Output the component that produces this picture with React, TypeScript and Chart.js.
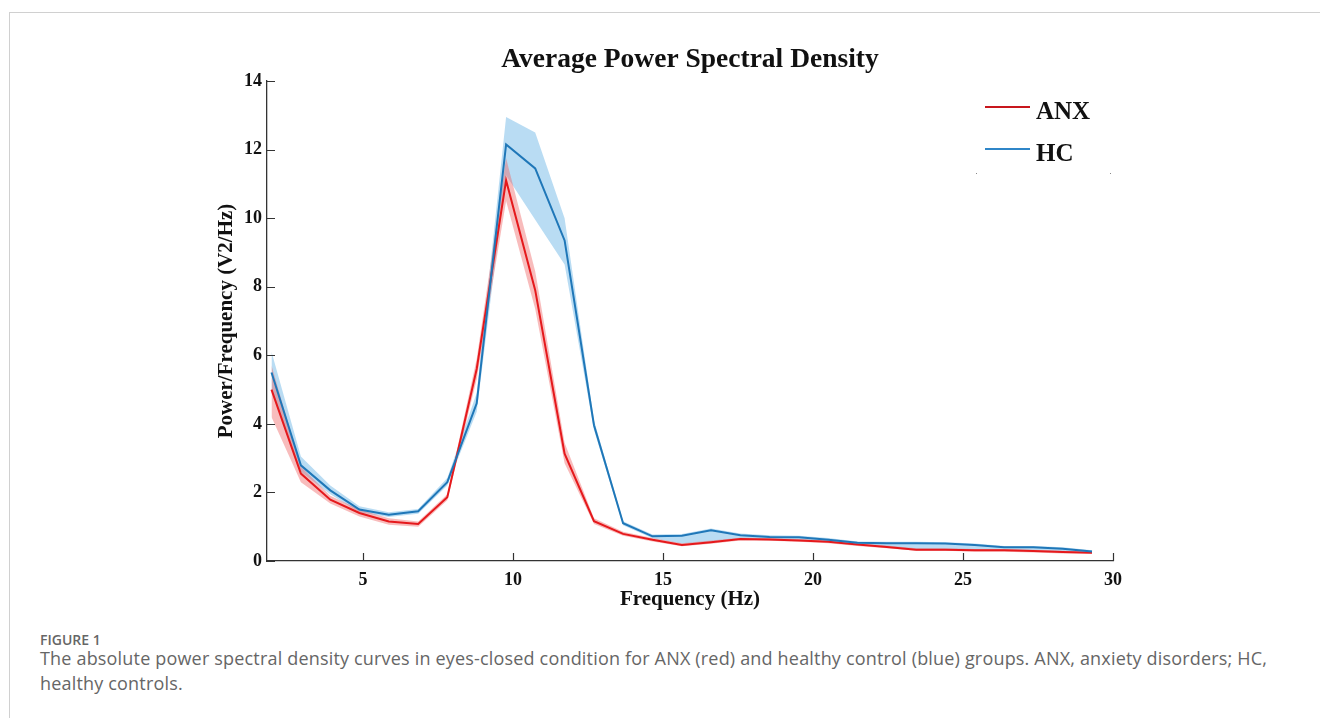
import React, { useEffect, useRef } from 'react';
import { Chart, registerables } from 'chart.js';

Chart.register(...registerables);

// Frequency bins (Hz)
const freqs = [1.95, 2.93, 3.91, 4.88, 5.86, 6.84, 7.81, 8.79, 9.77, 10.74, 11.72, 12.7, 13.67, 14.65, 15.63, 16.6, 17.58, 18.55, 19.53, 20.51, 21.48, 22.46, 23.44, 24.41, 25.39, 26.37, 27.34, 28.32, 29.3];

// ANX (red) group
const anxMean = [5.0, 2.55, 1.79, 1.4, 1.15, 1.08, 1.86, 5.6, 11.1, 7.9, 3.13, 1.16, 0.79, 0.62, 0.47, 0.55, 0.64, 0.63, 0.6, 0.56, 0.48, 0.41, 0.33, 0.33, 0.31, 0.31, 0.29, 0.26, 0.24];
const anxHigh = [5.7, 2.75, 1.9, 1.5, 1.25, 1.15, 1.95, 5.9, 11.75, 8.45, 3.45, 1.25, 0.85, 0.67, 0.52, 0.6, 0.68, 0.67, 0.64, 0.6, 0.52, 0.45, 0.37, 0.37, 0.35, 0.35, 0.33, 0.3, 0.27];
const anxLow = [4.2, 2.3, 1.68, 1.3, 1.06, 1.0, 1.77, 5.3, 10.5, 7.35, 2.85, 1.08, 0.74, 0.57, 0.43, 0.5, 0.6, 0.59, 0.56, 0.52, 0.44, 0.37, 0.3, 0.3, 0.27, 0.27, 0.25, 0.22, 0.21];

// HC (blue) group
const hcMean = [5.5, 2.79, 2.06, 1.5, 1.35, 1.45, 2.3, 4.6, 12.15, 11.45, 9.35, 3.96, 1.1, 0.72, 0.74, 0.9, 0.75, 0.7, 0.69, 0.62, 0.53, 0.52, 0.52, 0.51, 0.47, 0.4, 0.4, 0.36, 0.28];
const hcHigh = [6.1, 3.05, 2.2, 1.6, 1.42, 1.52, 2.42, 4.9, 12.95, 12.5, 10.0, 4.1, 1.16, 0.77, 0.79, 0.95, 0.8, 0.75, 0.74, 0.67, 0.57, 0.56, 0.56, 0.55, 0.51, 0.44, 0.44, 0.4, 0.31];
const hcLow = [5.0, 2.6, 1.95, 1.42, 1.28, 1.38, 2.2, 4.35, 11.25, 9.95, 8.65, 3.82, 1.04, 0.66, 0.5, 0.57, 0.66, 0.65, 0.62, 0.58, 0.5, 0.43, 0.35, 0.35, 0.33, 0.33, 0.31, 0.28, 0.25];

const xTicks = [5, 10, 15, 20, 25, 30];
const yTicks = [0, 2, 4, 6, 8, 10, 12, 14];
const seriesNames = ['ANX', 'HC'];

const titleText = 'Average Power Spectral Density';
const xTitle = 'Frequency (Hz)';
const yTitle = 'Power/Frequency (V2/Hz)';

const RED = '#e5191c';
const BLUE = '#1f77b8';
const RED_BAND = 'rgba(238, 95, 95, 0.42)';
const BLUE_BAND = 'rgba(100, 178, 228, 0.45)';
const SERIF = '"Liberation Serif", "Times New Roman", serif';

const pts = (ys: number[]) => freqs.map((f, i) => ({ x: f, y: ys[i] }));

const decorations = {
  id: 'decorations',
  afterDraw(chart: any) {
    const { ctx, chartArea, scales } = chart;
    const xs = scales.x;
    const ys = scales.y;
    ctx.save();
    // inward tick marks
    ctx.strokeStyle = '#333';
    ctx.lineWidth = 1.2;
    ctx.beginPath();
    xTicks.forEach((v) => {
      const px = Math.round(xs.getPixelForValue(v)) + 0.5;
      ctx.moveTo(px, chartArea.bottom);
      ctx.lineTo(px, chartArea.bottom - 8);
    });
    yTicks.forEach((v) => {
      const py = Math.round(ys.getPixelForValue(v)) + 0.5;
      ctx.moveTo(chartArea.left, py);
      ctx.lineTo(chartArea.left + 8, py);
    });
    ctx.stroke();

    // title centred over the plot area
    ctx.fillStyle = '#111';
    ctx.font = 'bold 27.5px ' + SERIF;
    ctx.textAlign = 'center';
    ctx.textBaseline = 'alphabetic';
    ctx.fillText(titleText, (chartArea.left + chartArea.right) / 2, 67);

    // legend
    const colors = ['#c8161d', '#2f86c8'];
    const rows = [107, 149];
    ctx.font = 'bold 25px ' + SERIF;
    ctx.textAlign = 'left';
    seriesNames.forEach((name, i) => {
      ctx.strokeStyle = colors[i];
      ctx.lineWidth = 2;
      ctx.beginPath();
      ctx.moveTo(985, rows[i]);
      ctx.lineTo(1030, rows[i]);
      ctx.stroke();
      ctx.fillStyle = '#111';
      ctx.fillText(name, 1036, rows[i] + 12);
    });
    ctx.fillStyle = '#888';
    ctx.fillRect(976, 173, 1, 1);
    ctx.fillRect(1110, 173, 1, 1);
    ctx.restore();
  },
};

function PsdChart() {
  const ref = useRef<HTMLCanvasElement | null>(null);
  useEffect(() => {
    if (!ref.current) return;
    const chart = new Chart(ref.current, {
      type: 'line',
      data: {
        datasets: [
          { label: 'HC upper', data: pts(hcHigh), borderWidth: 0, pointRadius: 0, fill: false, order: 5, borderColor: 'transparent' },
          { label: 'HC lower', data: pts(hcLow), borderWidth: 0, pointRadius: 0, fill: '-1', backgroundColor: BLUE_BAND, order: 5, borderColor: 'transparent' },
          { label: 'ANX upper', data: pts(anxHigh), borderWidth: 0, pointRadius: 0, fill: false, order: 4, borderColor: 'transparent' },
          { label: 'ANX lower', data: pts(anxLow), borderWidth: 0, pointRadius: 0, fill: '-1', backgroundColor: RED_BAND, order: 4, borderColor: 'transparent' },
          { label: 'ANX', data: pts(anxMean), borderColor: RED, borderWidth: 2, pointRadius: 0, fill: false, order: 1, tension: 0 },
          { label: 'HC', data: pts(hcMean), borderColor: BLUE, borderWidth: 2, pointRadius: 0, fill: false, order: 0, tension: 0 },
        ] as any,
      },
      options: {
        animation: false,
        responsive: true,
        maintainAspectRatio: false,
        layout: { padding: { left: 214, right: 207, top: 81, bottom: 0 } },
        plugins: {
          legend: { display: false },
          tooltip: { enabled: false },
          title: { display: false },
        },
        scales: {
          x: {
            type: 'linear',
            min: 1.8,
            max: 30,
            afterFit: (s: any) => { s.height = 59; },
            afterBuildTicks: (s: any) => { s.ticks = xTicks.map((v) => ({ value: v })); },
            grid: { display: false, drawTicks: false, tickLength: 0 },
            border: { display: true, color: '#333', width: 1.3 },
            ticks: { color: '#111', padding: 9, font: { family: SERIF, size: 18, weight: 'bold' }, maxRotation: 0 },
            title: { display: true, text: xTitle, color: '#111', font: { family: SERIF, size: 21, weight: 'bold' }, padding: { top: 0, bottom: 8 } },
          },
          y: {
            type: 'linear',
            min: 0,
            max: 14,
            afterFit: (s: any) => { s.width = 53; },
            afterBuildTicks: (s: any) => { s.ticks = yTicks.map((v) => ({ value: v })); },
            grid: { display: false, drawTicks: false, tickLength: 0 },
            border: { display: true, color: '#333', width: 1.3 },
            ticks: { color: '#111', padding: 5, font: { family: SERIF, size: 18, weight: 'bold' } },
            title: { display: true, text: yTitle, color: '#111', font: { family: SERIF, size: 21, weight: 'bold' }, padding: { top: 0, bottom: 0 } },
          },
        },
      } as any,
      plugins: [decorations],
    });
    return () => chart.destroy();
  }, []);
  return (
    <div style={{ position: 'absolute', left: 0, top: 0, width: 1320, height: 620 }}>
      <canvas ref={ref} />
    </div>
  );
}

export default function App() {
  return (
    <div style={{ position: 'relative', width: 1320, height: 718, overflow: 'hidden', background: '#fff' }}>
      <style>{'body{margin:0;overflow:hidden;}'}</style>
      <div
        style={{
          position: 'absolute',
          left: 9,
          top: 12,
          width: 1320,
          height: 720,
          borderTop: '1px solid #d0d0d0',
          borderLeft: '1px solid #d0d0d0',
          boxSizing: 'border-box',
        }}
      />
      <PsdChart />
      <div
        style={{
          position: 'absolute',
          left: 40,
          top: 630,
          fontFamily: '"Open Sans", sans-serif',
          color: '#666',
          fontSize: 14,
          fontWeight: 600,
          lineHeight: '20px',
          whiteSpace: 'nowrap',
        }}
      >
        FIGURE 1
      </div>
      <div
        style={{
          position: 'absolute',
          left: 40,
          top: 646,
          fontFamily: '"Open Sans", sans-serif',
          color: '#666',
          fontSize: 18,
          letterSpacing: '0.18px',
          lineHeight: '25px',
          whiteSpace: 'nowrap',
        }}
      >
        The absolute power spectral density curves in eyes-closed condition for ANX (red) and healthy control (blue) groups. ANX, anxiety disorders; HC,
        <br />
        healthy controls.
      </div>
    </div>
  );
}
